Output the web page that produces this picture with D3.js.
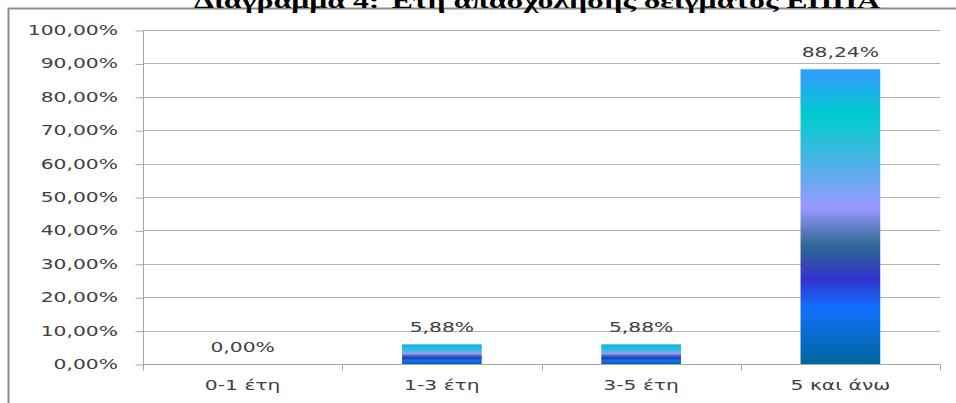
<!DOCTYPE html>
<html>
<head>
<meta charset="utf-8">
<script src="https://cdn.jsdelivr.net/npm/d3@7"></script>
<style>
  html, body { margin: 0; padding: 0; background: #fff; }
  svg { display: block; }
</style>
</head>
<body>
<svg id="chart" width="956" height="403"></svg>
<script>
// Years of employment of the sample (share of respondents)
const title = "Διάγραμμα 4: Έτη απασχόλησης δείγματος ΕΠΠΑ";
const categories = ["0-1 έτη", "1-3 έτη", "3-5 έτη", "5 και άνω"];
const values = [0.00, 5.88, 5.88, 88.24];
const yTicks = [0, 10, 20, 30, 40, 50, 60, 70, 80, 90, 100];

const W = 956, H = 403;
const plot = { left: 143, right: 940, top: 30, bottom: 364 };
const SX = 1.4;                 // horizontal stretch of all text
const textColor = "#404040";
const fmt = v => v.toFixed(2).replace(".", ",") + "%";

const svg = d3.select("#chart");

// "Peacock" style multi-stop vertical fill
const grad = svg.append("defs").append("linearGradient")
  .attr("id", "peacock").attr("x1", 0).attr("y1", 0).attr("x2", 0).attr("y2", 1);
[[0, "#3399ff"], [0.16, "#00cccc"], [0.47, "#9999ff"], [0.60, "#2e6792"],
 [0.71, "#3333cc"], [0.81, "#1170ff"], [1, "#006699"]]
  .forEach(([o, c]) => grad.append("stop").attr("offset", o).attr("stop-color", c));

const x = d3.scaleBand().domain(categories).range([plot.left, plot.right]).padding(0);
const y = d3.scaleLinear().domain([0, 100]).range([plot.bottom, plot.top]);

// chart area frame
svg.append("rect")
  .attr("x", 8.5).attr("y", 8.5).attr("width", W + 10).attr("height", H + 10)
  .attr("fill", "none").attr("stroke", "#8c8c8c").attr("stroke-width", 2);

// horizontal gridlines
svg.append("g").selectAll("line").data(yTicks.filter(t => t > 0)).join("line")
  .attr("x1", plot.left).attr("x2", plot.right)
  .attr("y1", d => Math.round(y(d)) + 0.5).attr("y2", d => Math.round(y(d)) + 0.5)
  .attr("stroke", "#b4b4b4").attr("stroke-width", 1);

// y axis
const yAxis = svg.append("g")
  .attr("transform", `translate(${plot.left + 0.5},0.5)`)
  .call(d3.axisLeft(y).tickValues(yTicks).tickSize(8).tickFormat(""));
yAxis.select(".domain").attr("stroke", "#a6a6a6").attr("d", `M0,${plot.top}V${plot.bottom + 6}`);
yAxis.selectAll(".tick line").attr("stroke", "#a6a6a6");

// x axis: baseline + boundary ticks
const xAxis = svg.append("g")
  .attr("transform", `translate(0,${plot.bottom + 0.5})`);
xAxis.append("line").attr("x1", plot.left).attr("x2", plot.right)
  .attr("stroke", "#a6a6a6");
const bounds = categories.map(c => x(c)).concat([plot.right]).slice(1);
xAxis.selectAll("line.b").data(bounds).join("line").attr("class", "b")
  .attr("x1", d => Math.round(d) + 0.5).attr("x2", d => Math.round(d) + 0.5)
  .attr("y1", 0).attr("y2", 6).attr("stroke", "#a6a6a6");

// bars
const barW = x.bandwidth() * 0.4;
svg.append("g").selectAll("rect").data(values.map((v, i) => ({ c: categories[i], v })))
  .join("rect")
  .filter(d => d.v > 0)
  .attr("x", d => x(d.c) + (x.bandwidth() - barW) / 2)
  .attr("y", d => y(d.v))
  .attr("width", barW)
  .attr("height", d => y(0) - y(d.v))
  .attr("fill", "url(#peacock)");

// stretched text helper
function label(g, txt, tx, ty, anchor) {
  return g.append("text")
    .attr("transform", `translate(${tx},${ty}) scale(${SX},1)`)
    .attr("text-anchor", anchor)
    .attr("font-family", "DejaVu Sans, Verdana, sans-serif")
    .attr("font-size", 14.5)
    .attr("fill", textColor)
    .text(txt);
}

// y tick labels
const yl = svg.append("g");
yTicks.forEach(t => label(yl, fmt(t), 118, y(t) + 5, "end"));

// category labels
const xl = svg.append("g");
categories.forEach(c => label(xl, c, x(c) + x.bandwidth() / 2, 390, "middle"));

// value labels
const vl = svg.append("g");
values.forEach((v, i) => label(vl, fmt(v), x(categories[i]) + x.bandwidth() / 2, y(v) - 12, "middle"));

// title (partly above the frame)
svg.append("text")
  .attr("x", 194).attr("y", 8)
  .attr("font-family", "Liberation Serif, Times New Roman, serif")
  .attr("font-weight", "bold")
  .attr("font-size", 21)
  .attr("fill", "#000")
  .attr("textLength", 686)
  .attr("lengthAdjust", "spacingAndGlyphs")
  .text(title);
</script>
</body>
</html>
